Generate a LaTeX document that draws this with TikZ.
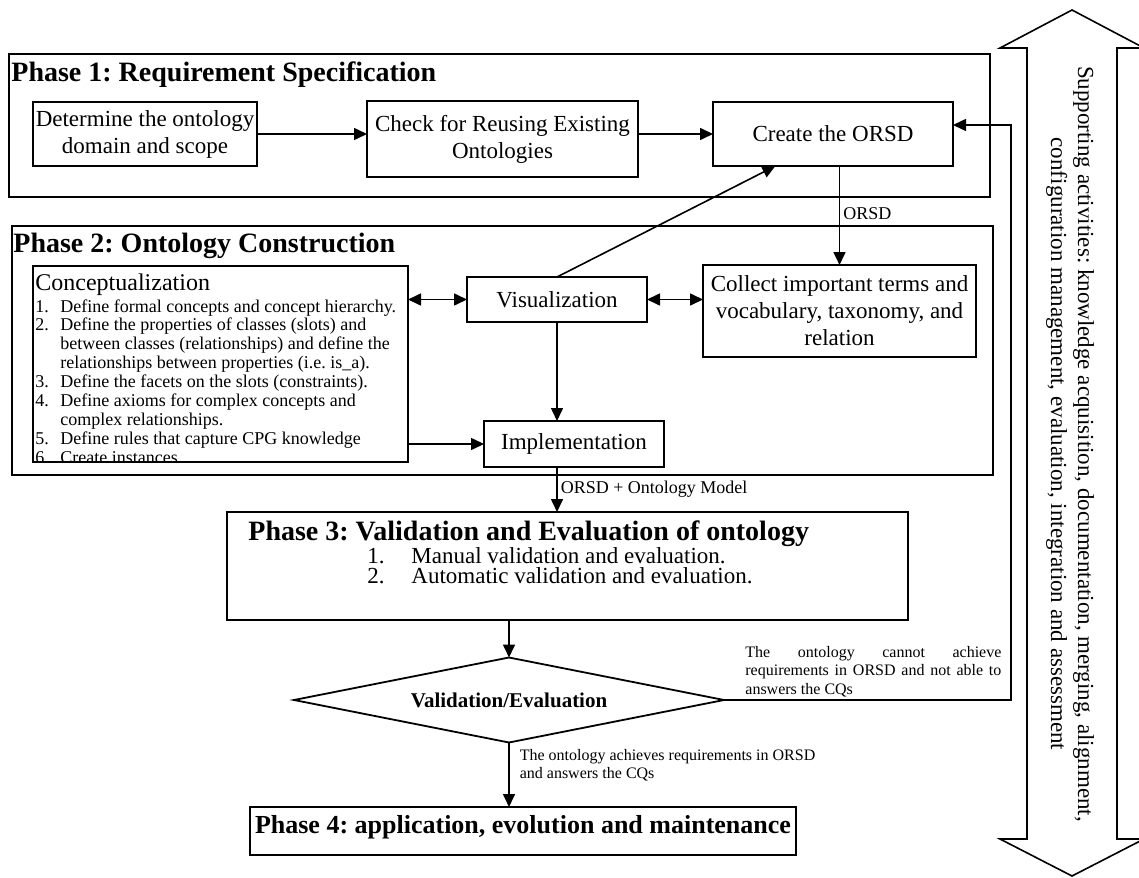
\documentclass[tikz,border=0pt]{standalone}
\usepackage{fontspec}
\setmainfont{Liberation Serif}
\usepackage{tikz}
\usetikzlibrary{positioning, shapes.geometric, arrows.meta, calc}
\frenchspacing
\tikzstyle{pixelGrid} = [x = 0.5pt, y = -0.5pt]
\tikzstyle{phaseBox} = [draw, line width = 1pt, outer sep = 0pt, inner sep = 0pt]
\tikzstyle{stepBox} = [draw, line width = 0.9pt, outer sep = 0pt, inner sep = 1pt, align = center, font = \fontsize{11.5}{13.5}\selectfont]
\tikzstyle{phaseTitle} = [anchor = base west, inner sep = 0pt, font = \fontsize{14}{16}\selectfont\bfseries]
\tikzstyle{arrowLine} = [line width = 0.8pt, -{Triangle[length = 6.5pt, width = 6pt]}]
\tikzstyle{twoWayLine} = [line width = 0.8pt, {Triangle[length = 6.5pt, width = 6pt]}-{Triangle[length = 6.5pt, width = 6pt]}]
\tikzstyle{edgeLabel} = [inner sep = 0pt, font = \fontsize{9}{10}\selectfont]
\tikzstyle{smallNote} = [inner sep = 0pt, font = \fontsize{8}{9.2}\selectfont]
\tikzstyle{listText} = [inner sep = 0pt, align = left, font = \fontsize{9}{9.45}\selectfont]
\tikzstyle{bodyText} = [inner sep = 0pt, font = \fontsize{11.5}{13.5}\selectfont]
\tikzstyle{supportArrow} = [line width = 0.8pt]
\newcommand{\boxNode}[7]{\node [#1, minimum width = {(#5 - #3) * 0.5pt}, minimum height = {(#6 - #4) * 0.5pt}] (#2) at ({(#3 + #5) / 2}, {(#4 + #6) / 2}) {#7};}
\newcommand{\itemNo}[1]{\makebox[12.5pt][l]{#1.}}
\newcommand{\itemGap}{\hspace*{12.5pt}}

\begin{document}
\begin{tikzpicture}[pixelGrid]
  \useasboundingbox (0,0) rectangle (1139,877);

  % supporting activities
  \draw [supportArrow] (1072,10) -- (1144,48) -- (1117,48) -- (1117,839) -- (1144,839) -- (1072,876) -- (1000,839) -- (1027,839) -- (1027,48) -- (1000,48) -- cycle;
  \node [bodyText, rotate = -90, align = center] (support) at (1070,444) {Supporting activities: knowledge acquisition, documentation, merging, alignment,\\configuration management, evaluation, integration and assessment};

  % phase 1
  \boxNode{phaseBox}{phaseOne}{9}{54}{990}{197}{}
  \node [phaseTitle] (phaseOneTitle) at (11,82) {Phase 1: Requirement Specification};
  \boxNode{stepBox}{domain}{33}{102}{257}{166}{Determine the ontology\\domain and scope}
  \boxNode{stepBox}{reuse}{367}{101}{638}{177}{Check for Reusing Existing\\Ontologies}
  \boxNode{stepBox}{orsd}{713}{102}{953}{166}{Create the ORSD}

  % phase 2
  \boxNode{phaseBox}{phaseTwo}{12}{226}{993}{475}{}
  \node [phaseTitle] (phaseTwoTitle) at (13,252) {Phase 2: Ontology Construction};
  \node [anchor = base west, inner sep = 0pt, font = \fontsize{12}{14}\selectfont] (conceptTitle) at (35,290) {Conceptualization};
  \begin{scope}
    \clip (33,266) rectangle (408,462);
    \node [listText, anchor = north west] (conceptList) at (35,299) {\itemNo{1}Define formal concepts and concept hierarchy.\\
      \itemNo{2}Define the properties of classes (slots) and\\
      \itemGap between classes (relationships) and define the\\
      \itemGap relationships between properties (i.e. is\_a).\\
      \itemNo{3}Define the facets on the slots (constraints).\\
      \itemNo{4}Define axioms for complex concepts and\\
      \itemGap complex relationships.\\
      \itemNo{5}Define rules that capture CPG knowledge\\
      \itemNo{6}Create instances};
  \end{scope}
  \boxNode{stepBox}{concept}{33}{266}{408}{462}{}
  \boxNode{stepBox}{visual}{467}{277}{647}{322}{Visualization}
  \boxNode{stepBox}{collect}{703}{265}{976}{357}{Collect important terms and\\vocabulary, taxonomy, and\\relation}
  \boxNode{stepBox}{implement}{484}{421}{664}{467}{Implementation}

  % phase 3
  \boxNode{phaseBox}{phaseThree}{227}{512}{908}{620}{}
  \node [phaseTitle] (phaseThreeTitle) at (248,540) {Phase 3: Validation and Evaluation of ontology};
  \foreach \num/\task in {1/Manual, 2/Automatic} {
    \node [bodyText, anchor = base west] (check\num) at (367, {543 + 20 * \num}) {\makebox[22pt][l]{\num.}\task{} validation and evaluation.};
  }

  % decision and phase 4
  \node [diamond, draw, line width = 0.9pt, shape aspect = 5, minimum width = 215pt, minimum height = 42.5pt, inner sep = 0pt, outer sep = 0pt, font = \fontsize{10.5}{12}\selectfont\bfseries] (decide) at (509,700) {Validation/Evaluation};
  \boxNode{phaseBox, font = \fontsize{13}{15}\selectfont\bfseries, text height = 10pt, text depth = 8pt}{phaseFour}{250}{807}{796}{855}{Phase 4: application, evolution and maintenance}

  % connectors
  \draw [arrowLine] (domain.east) -- (domain.east -| reuse.west);
  \draw [arrowLine] (reuse.east |- orsd.west) -- (orsd.west);
  \draw [arrowLine] (orsd.south -| collect.north) -- node [edgeLabel, anchor = west, xshift = 1.5pt, pos = 0.48] (orsdLabel) {ORSD} (collect.north);
  \draw [twoWayLine] (concept.east |- visual.west) -- (visual.west);
  \draw [twoWayLine] (visual.east) -- (visual.east -| collect.west);
  \draw [arrowLine] (visual.north) -- ($(orsd.south west)!0.26!(orsd.south east)$);
  \draw [arrowLine] (visual.south) -- (visual.south |- implement.north);
  \draw [arrowLine] (concept.east |- implement.west) -- (implement.west);
  \draw [arrowLine] (visual.south |- implement.south) -- node [edgeLabel, anchor = west, xshift = 1.5pt] (modelLabel) {ORSD + Ontology Model} (visual.south |- phaseThree.north);
  \draw [arrowLine] (decide.north |- phaseThree.south) -- (decide.north);
  \draw [arrowLine] (decide.south) -- node [smallNote, pos = 0.09, anchor = north west, xshift = 5pt, align = left] (passLabel) {The ontology achieves requirements in ORSD\\and answers the CQs} (decide.south |- phaseFour.north);
  \coordinate (loopTop) at (1011,125);
  \draw [arrowLine] (decide.east) -| (loopTop) -- (loopTop -| orsd.east);
  \node [smallNote, anchor = north west, text width = 128pt, align = justify] (failLabel) at (745,646) {The ontology cannot achieve\linebreak requirements in ORSD and not able to\linebreak answers the CQs};
\end{tikzpicture}
\end{document}
